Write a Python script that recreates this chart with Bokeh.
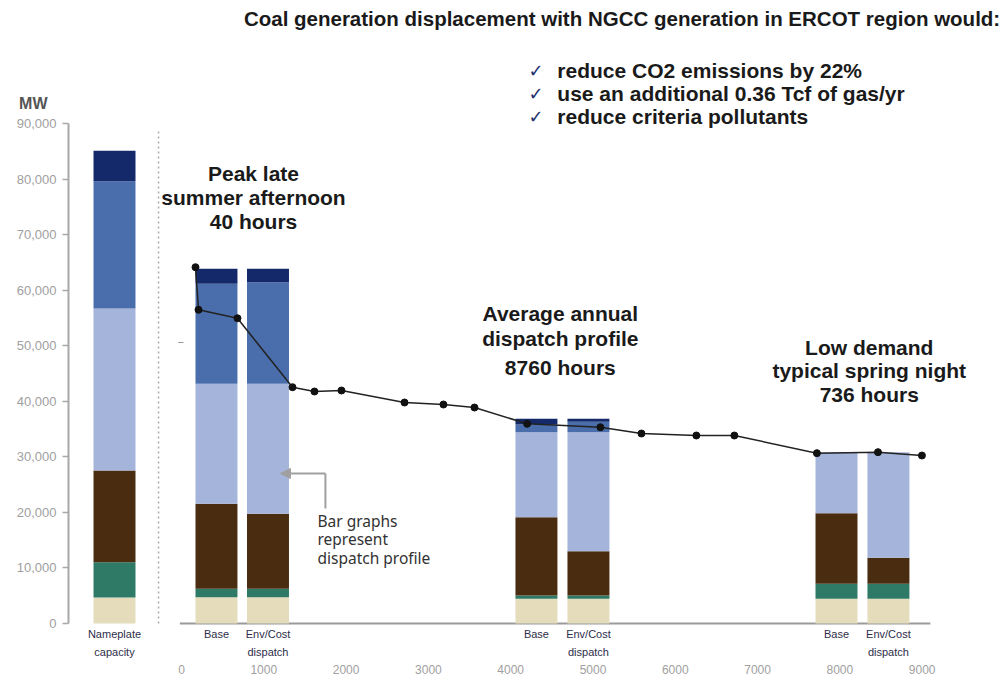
from bokeh.plotting import figure
from bokeh.models import (ColumnDataSource, FixedTicker, NumeralTickFormatter, Label,
                          Arrow, NormalHead, Range1d, LinearAxis)
from bokeh.embed import file_html
from bokeh.resources import INLINE

# ---------------- data ----------------
categories = ["Nameplate\ncapacity", "Base", "Env/Cost\ndispatch", "Base",
              "Env/Cost\ndispatch", "Base", "Env/Cost\ndispatch"]
bar_hours = [-814, 425, 1051, 4313, 4945, 7959, 8590]

nuclear   = [4680, 4740, 4740, 4440, 4440, 4440, 4440]
other     = [6360, 1500, 1500, 600, 600, 2700, 2700]
coal      = [16500, 15300, 13500, 14100, 7980, 12720, 4680]
ngcc      = [29160, 21600, 23400, 15300, 21420, 10980, 19020]
gas_steam = [22900, 18000, 18300, 1360, 1860, 0, 0]
peakers   = [5500, 2700, 2400, 1040, 540, 0, 0]

load_hours = [170, 207, 680, 1349, 1616, 1944, 2710, 3183, 3560, 4200, 5090,
              5589, 6256, 6718, 7721, 8463, 8997]
load_mw = [64130, 56470, 54950, 42530, 41760, 41940, 39780, 39420, 38880,
           35940, 35330, 34200, 33840, 33840, 30660, 30840, 30240]

x_ticks = [0, 1000, 2000, 3000, 4000, 5000, 6000, 7000, 8000, 9000]
y_ticks = [0, 10000, 20000, 30000, 40000, 50000, 60000, 70000, 80000, 90000]
unit_label = "MW"

title_text = "Coal generation displacement with NGCC generation in ERCOT region would:"
bullets = ["reduce CO2 emissions by 22%", "use an additional 0.36 Tcf of gas/yr",
           "reduce criteria pollutants"]
region_notes = [
    (["Peak late", "summer afternoon", "40 hours"], 875, [81000, 76680, 72360]),
    (["Average annual", "dispatch profile", "8760 hours"], 4603, [55800, 51300, 46080]),
    (["Low demand", "typical spring night", "736 hours"], 8357, [49680, 45540, 41220]),
]
note_lines = ["Bar graphs", "represent", "dispatch profile"]

stackers = ["nuclear", "other", "coal", "ngcc", "gas_steam", "peakers"]
colors = ["#E4DCBA", "#2E7A66", "#4A2D10", "#A5B4DA", "#4A6EAC", "#14296A"]

src = ColumnDataSource(dict(x=bar_hours, nuclear=nuclear, other=other,
                            coal=coal, ngcc=ngcc, gas_steam=gas_steam, peakers=peakers))

# ---------------- figure ----------------
p = figure(width=1008, height=682, output_backend="svg", toolbar_location=None,
           x_range=Range1d(-1373, 10049), y_range=Range1d(-360, 112140),
           min_border_left=68, min_border_right=0, min_border_top=0,
           min_border_bottom=57, title=None)
p.outline_line_color = None
p.xgrid.visible = False
p.ygrid.visible = False
p.background_fill_color = "white"
p.border_fill_color = "white"

# y axis
ya = p.yaxis[0]
ya.ticker = FixedTicker(ticks=y_ticks)
ya.formatter = NumeralTickFormatter(format="0,0")
ya.bounds = (0, 90000)
ya.axis_line_color = "#a8a8a8"
ya.axis_line_width = 2
ya.major_tick_line_color = "#a8a8a8"
ya.major_tick_line_width = 1.5
ya.major_tick_out = 6
ya.major_tick_in = 0
ya.minor_tick_line_color = None
ya.major_label_standoff = 6
ya.major_label_text_font = "Liberation Sans"
ya.major_label_text_font_size = "13px"
ya.major_label_text_color = "#a0a0a0"

# unit label ("MW") as an outer, line-less axis
mw = LinearAxis(ticker=FixedTicker(ticks=[93600]),
                major_label_overrides={93600: unit_label})
mw.axis_line_color = None
mw.major_tick_line_color = None
mw.minor_tick_line_color = None
mw.major_tick_out = 0
mw.major_tick_in = 0
mw.major_label_standoff = -34
mw.major_label_text_font = "Liberation Sans"
mw.major_label_text_font_size = "16px"
mw.major_label_text_font_style = "bold"
mw.major_label_text_color = "#555555"
p.add_layout(mw, "left")

# category axis (closest to the bars)
ca = p.xaxis[0]
ca.ticker = FixedTicker(ticks=bar_hours)
ca.major_label_overrides = {h: c for h, c in zip(bar_hours, categories)}
ca.axis_line_color = None
ca.major_tick_line_color = None
ca.minor_tick_line_color = None
ca.major_tick_out = 0
ca.major_tick_in = 0
ca.major_label_standoff = 2
ca.major_label_text_font = "Liberation Sans"
ca.major_label_text_font_size = "11px"
ca.major_label_text_line_height = 1.5
ca.major_label_text_color = "#2e2e4a"

# hours axis
ha = LinearAxis(ticker=FixedTicker(ticks=x_ticks))
ha.axis_line_color = None
ha.major_tick_line_color = None
ha.minor_tick_line_color = None
ha.major_tick_out = 0
ha.major_tick_in = 0
ha.major_label_standoff = 4
ha.major_label_text_font = "Liberation Sans"
ha.major_label_text_font_size = "12px"
ha.major_label_text_color = "#a0a0a0"
p.add_layout(ha, "below")

# baseline
p.line([-20, 9100], [0, 0], line_color="#9a9a9a", line_width=2)

# dotted separator
p.line([-279, -279], [0, 88740], line_color="#aaaaaa", line_width=1.5, line_dash="2 3")
p.line([-40, 25], [50580, 50580], line_color="#999999", line_width=1)

# stacked bars
p.vbar_stack(stackers, x="x", width=510, color=colors, source=src, line_color=None)

# load curve
p.line(load_hours, load_mw, line_color="#222222", line_width=1.5)
p.scatter(load_hours, load_mw, size=7, color="#111111")

# arrow annotation
p.line([1749, 1749], [20700, 27000], line_color="#a0a0a0", line_width=2)
p.add_layout(Arrow(end=NormalHead(size=10, fill_color="#a0a0a0", line_color="#a0a0a0"),
                   x_start=1749, y_start=27000, x_end=1202, y_end=27000,
                   line_color="#a0a0a0", line_width=2))

def lab(x, y, text, size, color="#222222", align="left", style="bold",
        font="Liberation Sans"):
    p.add_layout(Label(x=x, y=y, text=text, text_font=font, text_font_size=size,
                       text_font_style=style, text_color=color, text_align=align,
                       text_baseline="middle"))

lab(9948, 108900, title_text, "20.5px", color="#1a1a1a", align="right")
for i, b in enumerate(bullets):
    yy = [99540, 95400, 91260][i]
    lab(4215, yy, "\u2713", "18px", color="#23306e", style="normal", font="DejaVu Sans")
    lab(4567, yy, b, "21px", color="#1a1a1a")

for lines, cx, ys in region_notes:
    for t, yy in zip(lines, ys):
        lab(cx, yy, t, "21px", color="#1a1a1a", align="center")

for t, yy in zip(note_lines, [18540, 15300, 11880]):
    lab(1652, yy, t, "15.5px", color="#333333", style="normal", font="Noto Sans")

open("out.html", "w").write(file_html(p, INLINE))
